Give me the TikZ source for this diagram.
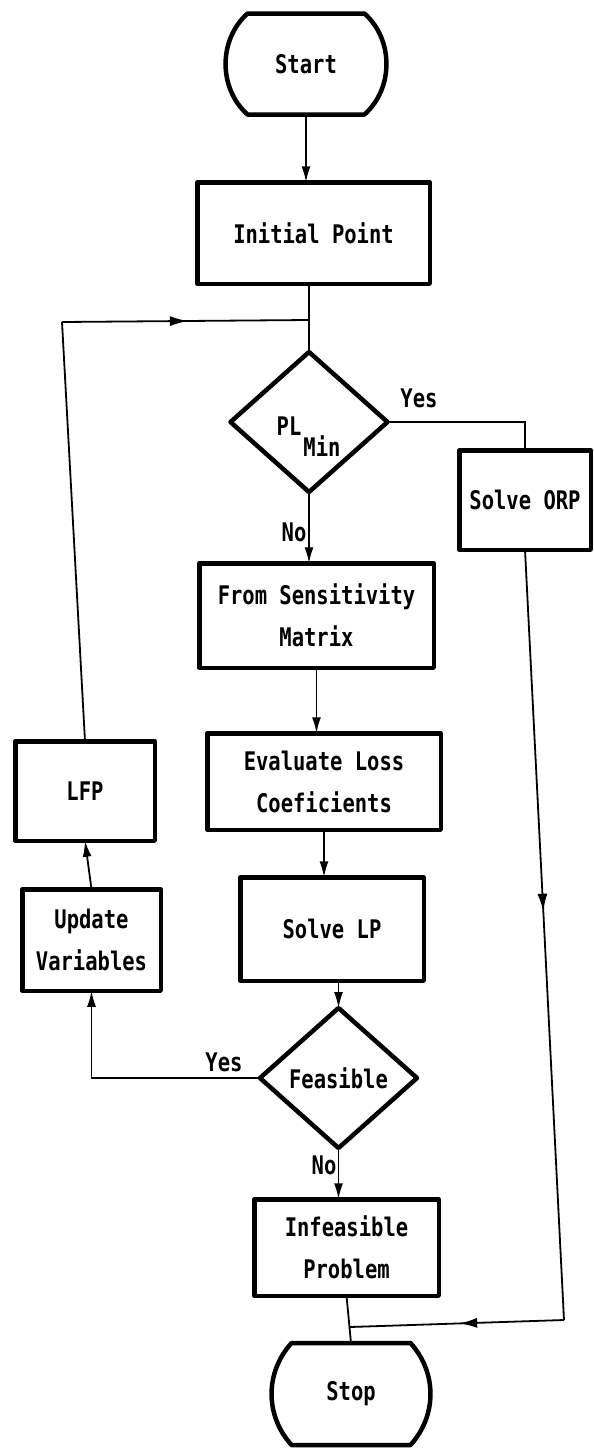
\documentclass[tikz,border=0pt]{standalone}
\usepackage{fontspec}
\usepackage{graphicx}
\newfontfamily\dmono{DejaVu Sans Mono}
\usetikzlibrary{shapes.geometric,arrows.meta,decorations.markings}
\newcommand{\tx}[1]{\scalebox{1}[1.25]{#1}}
\begin{document}
\begin{tikzpicture}[x=1pt,y=-1pt,
  every node/.style={font=\dmono\bfseries\fontsize{20.5}{42}\selectfont, inner sep=0pt, outer sep=0pt},
  box/.style={draw, rectangle, line width=4.5pt, line join=round, align=center},
  dec/.style={draw, diamond, line width=4.5pt, line join=round, minimum width=157pt, minimum height=140pt},
  term/.style={rectangle, align=center},
  termline/.style={line width=4.5pt, line join=round},
  conn/.style={line width=1.8pt},
  arr/.style={-{Latex[length=16pt,width=9pt]}},
  midarr/.style={postaction={decorate}, decoration={markings, mark=at position #1 with {\arrow{Latex[length=18pt,width=10pt]}}}},
]
\useasboundingbox[fill=white] (0,0) rectangle (594,1449);

% terminals
\node[term, minimum width=117pt, minimum height=101pt] (start) at (306,64) {\tx{Start}};
\draw[termline] (start.north west) -- (start.north east) to[bend left=48] (start.south east) -- (start.south west) to[bend left=48] (start.north west) -- cycle;

\node[term, minimum width=119pt, minimum height=102pt] (stop) at (351,1394) {\tx{Stop}};
\draw[termline] (stop.north west) -- (stop.north east) to[bend left=42] (stop.south east) -- (stop.south west) to[bend left=42] (stop.north west) -- cycle;

% boxes
\node[box, minimum width=232.5pt, minimum height=101.5pt] (init) at (313.5,233) {\tx{Initial Point}};
\node[box, minimum width=234.5pt, minimum height=104.5pt] (sens) at (316.5,615.5) {\tx{From Sensitivity}\\\tx{Matrix}};
\node[box, minimum width=233.5pt, minimum height=96.5pt] (eval) at (324,781.5) {\tx{Evaluate Loss}\\\tx{Coeficients}};
\node[box, minimum width=183.5pt, minimum height=103.5pt] (solvelp) at (332,929) {\tx{Solve LP}};
\node[box, minimum width=139.5pt, minimum height=99.5pt] (lfp) at (85,791) {\tx{LFP}};
\node[box, minimum width=138.5pt, minimum height=101.5pt] (update) at (91.5,940) {\tx{Update}\\\tx{Variables}};
\node[box, minimum width=131.5pt, minimum height=99.5pt] (orp) at (525,500) {\tx{Solve ORP}};
\node[box, minimum width=184.5pt, minimum height=96.5pt] (infeas) at (346.5,1247.5) {\tx{Infeasible}\\\tx{Problem}};

% decisions
\node[dec] (pl) at (309,422) {};
\node (pltx) at (289,426) {\tx{PL}};
\node (mintx) at (322,446) {\tx{Min}};
\node[dec] (feas) at (338.5,1078) {\tx{Feasible}};

% labels
\node (yes1) at (419,398) {\tx{Yes}};
\node (no1) at (294,532) {\tx{No}};
\node (yes2) at (224,1062) {\tx{Yes}};
\node (no2) at (324,1165) {\tx{No}};

% coordinates
\path (pl.north) ++(0,-32) coordinate (j1);
\coordinate (lc) at (62,322);
\coordinate (rc) at (564,1320);
\coordinate (j2) at (350,1327);

% connectors
\draw[conn,arr] (start.south) -- (start.south |- init.north);
\draw[conn] (init.south -| pl.north) -- (pl.north);
\draw[conn] (lfp.north) -- (lc);
\draw[conn,midarr=0.51] (lc) -- (j1);
\draw[conn] (pl.east) -- (pl.east -| orp.north) -- (orp.north);
\draw[conn,arr] (pl.south) -- (pl.south |- sens.north);
\draw[conn,arr] (sens.south) -- (sens.south |- eval.north);
\draw[conn,arr] (eval.south) -- (eval.south |- solvelp.north);
\draw[conn,arr] (feas.north |- solvelp.south) -- (feas.north);
\draw[conn,arr] (feas.west) -- (feas.west -| update.south) -- (update.south);
\draw[conn,arr] (update.north) -- (lfp.south);
\draw[conn,arr] (feas.south) -- (feas.south |- infeas.north);
\draw[conn,midarr=0.47] (orp.south) -- (rc);
\draw[conn,midarr=0.49] (rc) -- (j2);
\draw[conn] (infeas.south) -- (stop.north);
\end{tikzpicture}
\end{document}
